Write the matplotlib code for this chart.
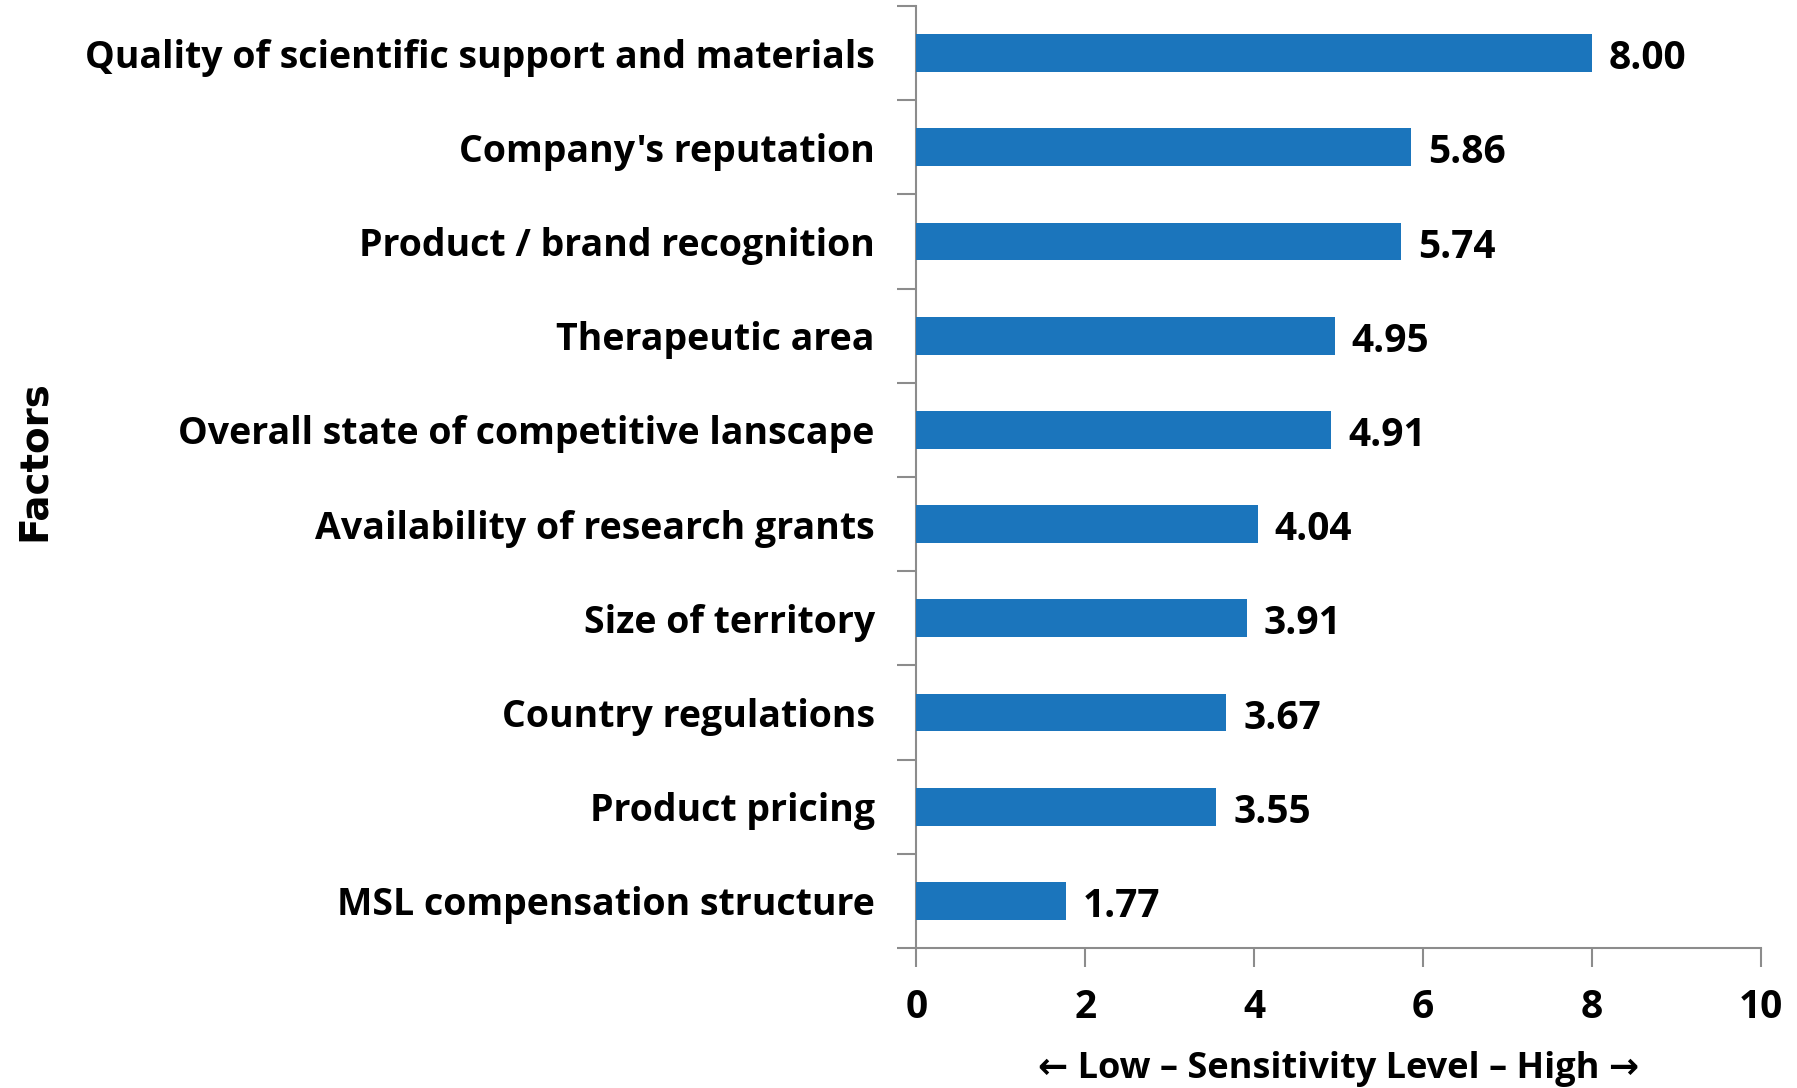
import numpy as np
import matplotlib.pyplot as plt

factors = ['Quality of scientific support and materials', "Company's reputation",
           'Product / brand recognition', 'Therapeutic area',
           'Overall state of competitive lanscape', 'Availability of research grants',
           'Size of territory', 'Country regulations', 'Product pricing',
           'MSL compensation structure']
scores = [8.00, 5.86, 5.74, 4.95, 4.91, 4.04, 3.91, 3.67, 3.55, 1.77]
xticks = [0, 2, 4, 6, 8, 10]

plt.rcParams['font.family'] = ['Open Sans', 'DejaVu Sans']
plt.rcParams['font.weight'] = 'bold'

fig = plt.figure(figsize=(17.97, 10.88), dpi=100)
ax = fig.add_axes([0.510, 0.1287, 0.470, 0.8658])

y = np.arange(len(factors))[::-1]
ax.barh(y, scores, height=0.4, color='#1B75BC', zorder=3)
for yi, v in zip(y, scores):
    ax.text(v + 0.2, yi - 0.06, f'{v:.2f}', va='center', ha='left',
            fontsize=28, fontweight='bold')

ax.set_xlim(0, 10)
ax.set_ylim(-0.5, len(factors) - 0.5)
ax.set_xticks(xticks)
ax.set_xticklabels([str(t) for t in xticks], fontsize=28, fontweight='bold')
ax.tick_params(axis='x', length=14, width=1.5, color='#8c8c8c', pad=15)

# category labels without tick marks, tick marks at the boundaries
ax.set_yticks(y)
ax.set_yticklabels(factors, fontsize=27, fontweight='bold')
ax.tick_params(axis='y', length=0, pad=30)
ax.set_yticks(np.arange(-0.5, len(factors), 1), minor=True)
ax.tick_params(axis='y', which='minor', length=14, width=1.5, color='#8c8c8c')

for s in ['top', 'right']:
    ax.spines[s].set_visible(False)
for s in ['left', 'bottom']:
    ax.spines[s].set_color('#8c8c8c')
    ax.spines[s].set_linewidth(1.5)

ax.set_xlabel('\u2190 Low \u2013 Sensitivity Level \u2013 High \u2192',
              fontsize=26, fontweight='bold', labelpad=17)
fig.text(0.019, 0.577, 'Factors', rotation=90, va='center', ha='center',
         fontsize=28, fontweight='bold', family='DejaVu Sans')

fig.savefig('out.png', dpi=100)
